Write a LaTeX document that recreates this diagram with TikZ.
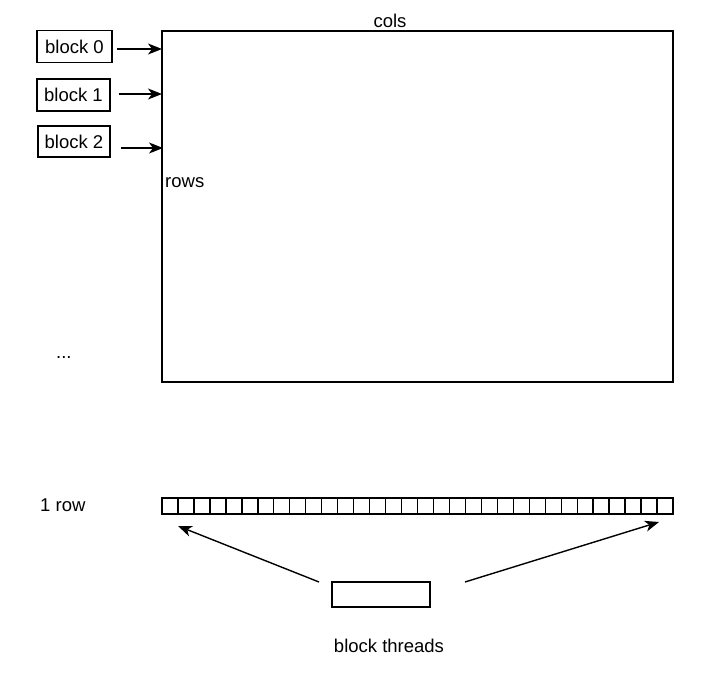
\documentclass[tikz,border=0pt]{standalone}
\usepackage{fontspec}
\setmainfont{Liberation Sans}
\usetikzlibrary{arrows.meta}
\begin{document}
\begin{tikzpicture}[x=1pt,y=-1pt,
  lw/.style={line width=1.4pt},
  box/.style={draw,lw,inner sep=0pt,outer sep=0pt},
  lbl/.style={inner sep=0pt,font=\fontsize{18.5}{21}\selectfont},
  arr/.style={lw,-{Stealth[length=14pt,width=11pt,inset=4pt]}},
  cell/.style={box,minimum width=15.97pt,minimum height=16pt,anchor=north west}
]
\useasboundingbox (0,0) rectangle (702,674);
% main rectangle
\node[box,minimum width=511pt,minimum height=351pt,anchor=north west] (main) at (162,31) {};
\node[lbl,anchor=base] (cols) at (390,28) {cols};
\node[lbl,anchor=west] (rows) at (165,182.5) {rows};
% blocks
\node[box,minimum width=75pt,minimum height=32pt,label={[lbl]center:block 0}] (b0) at (74.5,46.5) {};
\node[box,minimum width=73pt,minimum height=32pt,label={[lbl]center:block 1}] (b1) at (73.5,95) {};
\node[box,minimum width=72pt,minimum height=31pt,label={[lbl]center:block 2}] (b2) at (74,141.5) {};
\coordinate (t0) at (162,49);
\coordinate (t1) at (162,94);
\coordinate (t2) at (163,148);
\draw[arr] (b0.east) ++(5,2.5) -- (t0);
\draw[arr] (b1.east) ++(9,-1) -- (t1);
\draw[arr] (b2.east) ++(11,6.5) -- (t2);
\node[lbl,anchor=base west] (dots) at (56,358) {...};
% row of cells
\node[lbl,anchor=west] (onerow) at (40,505) {1 row};
\foreach \i in {0,...,31} {
  \node[cell] (c\i) at ({162+\i*15.97},498) {};
}
% block threads
\node[box,minimum width=98pt,minimum height=25pt] (bt) at (381,594.5) {};
\coordinate (la) at (178,526);
\coordinate (ra) at (659,522);
\coordinate (ls) at (319,582);
\coordinate (rs) at (465,582);
\draw[arr] (ls) -- (la);
\draw[arr] (rs) -- (ra);
\node[lbl,anchor=center] (btl) at (389,646) {block threads};
\end{tikzpicture}
\end{document}
